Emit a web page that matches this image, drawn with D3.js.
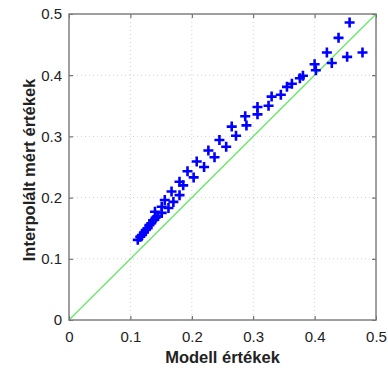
<!DOCTYPE html>
<html>
<head>
<meta charset="utf-8">
<script src="https://cdn.jsdelivr.net/npm/d3@7"></script>
<style>
  html, body { margin: 0; padding: 0; background: #fff; }
  svg { display: block; }
</style>
</head>
<body>
<svg id="chart" width="388" height="370"></svg>
<script>
// Data
const modelValues = [
  0.112, 0.116, 0.119, 0.122, 0.125, 0.128, 0.131, 0.134, 0.137, 0.141,
  0.145, 0.140, 0.151, 0.151, 0.162, 0.156, 0.170, 0.167, 0.180, 0.180,
  0.186, 0.193, 0.203, 0.208, 0.220, 0.227, 0.237, 0.245, 0.256, 0.265,
  0.272, 0.287, 0.289, 0.307, 0.307, 0.325, 0.330, 0.345, 0.355, 0.363,
  0.376, 0.381, 0.400, 0.402, 0.420, 0.428, 0.439, 0.453, 0.457, 0.478
];
const measuredValues = [
  0.131, 0.136, 0.139, 0.143, 0.147, 0.150, 0.155, 0.158, 0.163, 0.167,
  0.170, 0.177, 0.175, 0.185, 0.183, 0.196, 0.193, 0.210, 0.204, 0.226,
  0.220, 0.243, 0.233, 0.259, 0.250, 0.277, 0.266, 0.294, 0.283, 0.316,
  0.301, 0.333, 0.318, 0.348, 0.336, 0.350, 0.365, 0.368, 0.381, 0.386,
  0.395, 0.399, 0.418, 0.408, 0.437, 0.420, 0.461, 0.430, 0.486, 0.437
];
const identityLine = [0, 0.5];
const tickValues = [0, 0.1, 0.2, 0.3, 0.4, 0.5];
const tickLabels = ["0", "0.1", "0.2", "0.3", "0.4", "0.5"];
const xTitle = "Modell értékek";
const yTitle = "Interpolált mért értékek";

const svg = d3.select("#chart");
const L = 69, R = 376, T = 14, B = 320;
const x = d3.scaleLinear().domain([0, 0.5]).range([L, R]);
const y = d3.scaleLinear().domain([0, 0.5]).range([B, T]);
const font = "'Liberation Sans', Arial, Helvetica, sans-serif";

// grid (dotted)
const grid = svg.append("g");
tickValues.slice(1, -1).forEach(v => {
  grid.append("line").attr("x1", x(v)).attr("x2", x(v)).attr("y1", T).attr("y2", B)
    .attr("stroke", "#d0d0d0").attr("stroke-width", 1).attr("stroke-dasharray", "1,3");
  grid.append("line").attr("x1", L).attr("x2", R).attr("y1", y(v)).attr("y2", y(v))
    .attr("stroke", "#d0d0d0").attr("stroke-width", 1).attr("stroke-dasharray", "1,3");
});

// identity line
svg.append("line")
  .attr("x1", x(identityLine[0])).attr("y1", y(identityLine[0]))
  .attr("x2", x(identityLine[1])).attr("y2", y(identityLine[1]))
  .attr("stroke", "#5ee85e").attr("stroke-width", 1.2);

// markers
const pts = modelValues.map((m, i) => [m, measuredValues[i]]);
const s = 5;
svg.append("g").selectAll("path").data(pts).join("path")
  .attr("d", d => `M${x(d[0]) - s},${y(d[1])}H${x(d[0]) + s}M${x(d[0])},${y(d[1]) - s}V${y(d[1]) + s}`)
  .attr("stroke", "#0000ff").attr("stroke-width", 2.6).attr("fill", "none");

// axes with inward ticks
const lab = d => tickLabels[tickValues.indexOf(d)];
const axB = svg.append("g").attr("transform", `translate(0,${B})`)
  .call(d3.axisBottom(x).tickValues(tickValues).tickSizeInner(-4).tickSizeOuter(0).tickPadding(11).tickFormat(lab));
const axL = svg.append("g").attr("transform", `translate(${L},0)`)
  .call(d3.axisLeft(y).tickValues(tickValues).tickSizeInner(-4).tickSizeOuter(0).tickPadding(7).tickFormat(lab));
const axT = svg.append("g").attr("transform", `translate(0,${T})`)
  .call(d3.axisTop(x).tickValues(tickValues).tickSizeInner(-4).tickSizeOuter(0).tickFormat(""));
const axR = svg.append("g").attr("transform", `translate(${R},0)`)
  .call(d3.axisRight(y).tickValues(tickValues).tickSizeInner(-4).tickSizeOuter(0).tickFormat(""));
[axB, axL, axT, axR].forEach(a => {
  a.select(".domain").remove();
  a.selectAll(".tick line").attr("stroke", "#555").attr("stroke-width", 1);
  a.selectAll("text").attr("fill", "#222").style("font-family", font).style("font-size", "15px");
});

// frame
svg.append("rect").attr("x", L).attr("y", T).attr("width", R - L).attr("height", B - T)
  .attr("fill", "none").attr("stroke", "#808080").attr("stroke-width", 1.5);

// titles
svg.append("text").attr("x", (L + R) / 2).attr("y", 363)
  .attr("text-anchor", "middle").attr("fill", "#222")
  .style("font-family", font).style("font-size", "16.5px").style("font-weight", "bold")
  .text(xTitle);
svg.append("text").attr("transform", `translate(35,170) rotate(-90)`)
  .attr("text-anchor", "middle").attr("fill", "#222")
  .style("font-family", font).style("font-size", "16.5px").style("font-weight", "bold")
  .text(yTitle);
</script>
</body>
</html>
